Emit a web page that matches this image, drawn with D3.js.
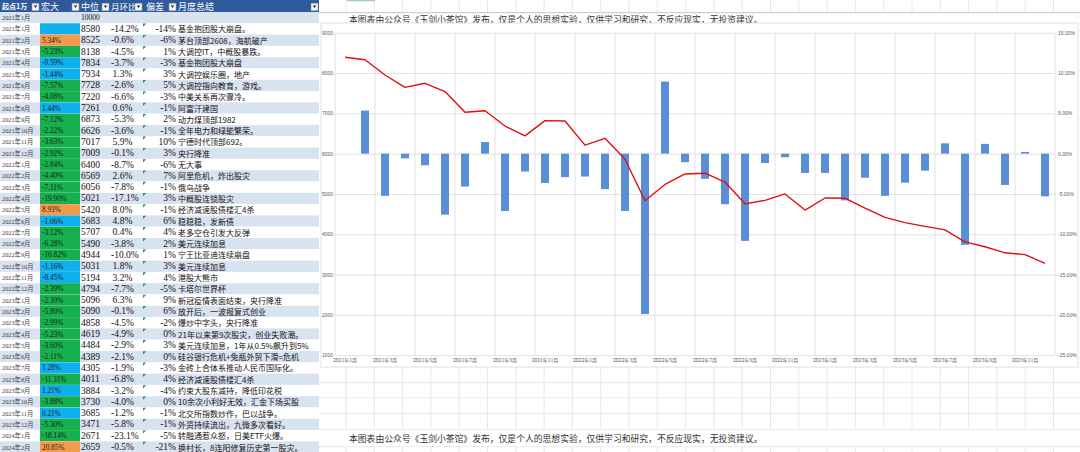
<!DOCTYPE html>
<html><head><meta charset="utf-8">
<script src="https://cdn.jsdelivr.net/npm/d3@7"></script>
<style>
html,body{margin:0;padding:0;background:#fff;overflow:hidden;}
svg{display:block;}
text{font-family:"Liberation Serif","Noto Sans CJK SC",serif;}
</style></head><body>
<svg id="c" width="1080" height="452"></svg>
<script>
// ---------------- data ----------------
const startLabel = "2021年1月";
const startValue = 10000;
const months = ["2021年1月","2021年2月","2021年3月","2021年4月","2021年5月","2021年6月","2021年7月","2021年8月","2021年9月","2021年10月","2021年11月","2021年12月",
"2022年1月","2022年2月","2022年3月","2022年4月","2022年5月","2022年6月","2022年7月","2022年8月","2022年9月","2022年10月","2022年11月","2022年12月",
"2023年1月","2023年2月","2023年3月","2023年4月","2023年5月","2023年6月","2023年7月","2023年8月","2023年9月","2023年10月","2023年11月","2023年12月",
"2024年1月","2024年2月"];
const hongda = [null,5.34,-5.23,-0.59,-1.44,-7.57,-4.08,1.44,-7.12,-2.22,-3.63,-2.92,
-2.84,-4.40,-7.11,-19.90,8.93,-1.06,-3.12,-6.28,-10.82,-1.16,-0.45,-2.39,
-2.39,-5.80,-2.99,-5.23,-3.60,-2.11,1.28,-11.31,1.21,-3.88,0.21,-5.30,
-18.14,20.85];
const zhongwei = [8580,8525,8138,7834,7934,7728,7220,7261,6873,6626,7017,7009,
6400,6569,6056,5021,5420,5683,5707,5490,4944,5031,5194,4794,
5096,5090,4858,4619,4484,4389,4305,4011,3884,3730,3685,3471,
2671,2659];
const huanbi = ["-14.2%","-0.6%","-4.5%","-3.7%","1.3%","-2.6%","-6.6%","0.6%","-5.3%","-3.6%","5.9%","-0.1%",
"-8.7%","2.6%","-7.8%","-17.1%","8.0%","4.8%","0.4%","-3.8%","-10.0%","1.8%","3.2%","-7.7%",
"6.3%","-0.1%","-4.5%","-4.9%","-2.9%","-2.1%","-1.9%","-6.8%","-3.2%","-4.0%","-1.2%","-5.8%",
"-23.1%","-0.5%"];
const piancha = [-14,-6,1,-3,3,5,-3,-1,2,-1,10,3,
-6,7,-1,3,-1,6,4,2,1,3,4,-5,
9,6,-2,0,3,0,-3,4,-4,0,-1,-1,
-5,-21];
const summary = ["基金抱团股大崩盘。","茅台顶部2608，海航破产","大调控IT，中概股暴跌。","基金抱团股大崩盘","大调控娱乐圈，地产","大调控指向教育，游戏。","中美关系再次骤冷。","阿富汗建国","动力煤顶部1982","全年电力和绿能繁荣。","宁德时代顶部692。","央行降准",
"无大事","阿里危机，炸出股灾","俄乌战争","中概股连锁股灾","经济减速股债楼汇4杀","稳稳稳，发新债","老多空仓引发大反弹","美元连续加息","宁王比亚迪连续崩盘","美元连续加息","港股大熊市","卡塔尔世界杯",
"新冠疫情表面结束，央行降准","放开后，一波报复式创业","爆炒中字头，央行降准","21年以来第9次股灾，创业失败潮。","美元连续加息，1年从0.5%飙升到5%","硅谷银行危机+兔瓶外贸下滑=危机","金砖上合体系推动人民币国际化。","经济减速股债楼汇4杀","约束大股东减持，降低印花税","10余次小利好无效，汇金下场买股","北交所指数炒作，巴以战争。","外资持续流出，九微多次看好。",
"转融通惹众怒，日美ETF火爆。","换村长，8连阳修复历史第一股灾。"];
const headers = ["起点1万","宏大","中位","月环比","偏差","月度总结"];

// chart series (2021年1月 .. 2023年12月)
const chartMonths = months.slice(0,36);
const barValues = hongda.slice(0,36);
const lineValues = [8390,8330,7950,7645,7745,7540,7025,7065,6685,6440,6820,6810,
6210,6380,5860,4830,5235,5495,5515,5295,4755,4840,5000,4600,
4900,4895,4650,4420,4290,4195,4110,3810,3690,3540,3495,3280];
const leftTicks = [1000,2000,3000,4000,5000,6000,7000,8000,9000];
const rightTicks = [-25,-20,-15,-10,-5,0,5,10,15];
const xTickLabels = chartMonths.filter((d,i)=>i%2===0);
const note = "本图表由公众号《玉剑小茶馆》发布，仅是个人的思想实验，仅供学习和研究，不反应现实，无投资建议。";

// ---------------- drawing ----------------
const svg = d3.select("#c");
const CJK = '"Noto Sans CJK SC",sans-serif';

// spreadsheet grid on right
const gridG = svg.append("g");
const colW = 28.3, colStart = 317.7;
const vCols = d3.range(1,28).map(k=>colStart+colW*k).filter(x=>x<1080);
const vSegs = [[0,12.7],[366.7,429.3],[446.7,452]];
vSegs.forEach(s=>{
  gridG.selectAll(null).data(vCols).enter().append("line")
    .attr("x1",d=>d).attr("x2",d=>d).attr("y1",s[0]).attr("y2",s[1])
    .attr("stroke","#e2e2e2").attr("stroke-width",0.8);
});
[366.7,382.7,397.7,413.3,429.3,446.7].forEach(y=>{
  gridG.append("line").attr("x1",319).attr("x2",1080).attr("y1",y).attr("y2",y)
    .attr("stroke","#e2e2e2").attr("stroke-width",0.8);
});
gridG.append("line").attr("x1",319).attr("x2",1080).attr("y1",12.7).attr("y2",12.7)
  .attr("stroke","#c4c4c4").attr("stroke-width",1);
gridG.append("rect").attr("x",347).attr("y",0).attr("width",28).attr("height",1.3).attr("fill","#9fd3b5");

// notes
svg.append("text").attr("x",349).attr("y",19).attr("dominant-baseline","central")
  .style("font-family",CJK).style("font-size","8.8px").attr("fill","#333").text(note);
svg.append("text").attr("x",349).attr("y",438).attr("dominant-baseline","central")
  .style("font-family",CJK).style("font-size","8.8px").attr("fill","#333").text(note);

// chart frame
svg.append("rect").attr("x",321).attr("y",23).attr("width",757).attr("height",344)
  .attr("fill","#fff").attr("stroke","#d9d9d9").attr("stroke-width",0.8);

const px0=335, px1=1055, pyT=32.7, pyB=355.2;
const x = d3.scaleBand().domain(chartMonths).range([px0,px1]);
const yL = d3.scaleLinear().domain([1000,9000]).range([pyB,pyT]);
const yR = d3.scaleLinear().domain([-25,15]).range([pyB,pyT]);

// horizontal gridlines + left labels
const axL = svg.append("g").attr("transform",`translate(${px0},0)`)
  .call(d3.axisLeft(yL).tickValues(leftTicks).tickSize(-(px1-px0)).tickPadding(2).tickFormat(d3.format("d")));
axL.select(".domain").remove();
axL.selectAll("line").attr("stroke","#d9d9d9").attr("stroke-width",0.8);
axL.selectAll("text").attr("fill","#595959").style("font-size","5px").style("font-family","Liberation Sans, sans-serif");

// vertical gridlines every 2 months
const vx = chartMonths.filter((d,i)=>i%2===0).map(d=>x(d)).concat([px1]);
svg.append("g").selectAll("line").data(vx).enter().append("line")
  .attr("x1",d=>d).attr("x2",d=>d).attr("y1",pyT).attr("y2",pyB)
  .attr("stroke","#d9d9d9").attr("stroke-width",0.8);

// right labels
const axR = svg.append("g").attr("transform",`translate(${px1},0)`)
  .call(d3.axisRight(yR).tickValues(rightTicks).tickSize(0).tickPadding(3).tickFormat(d=>d.toFixed(2)+"%"));
axR.select(".domain").remove();
axR.selectAll("text").attr("fill","#595959").style("font-size","5px").style("font-family","Liberation Sans, sans-serif");

// x labels
const axX = svg.append("g").attr("transform",`translate(0,${pyB})`)
  .call(d3.axisBottom(x).tickValues(xTickLabels).tickSize(0).tickPadding(3));
axX.select(".domain").remove();
axX.selectAll("text").attr("fill","#595959").style("font-size","5px").style("font-family",CJK);

// bars
const bw = x.bandwidth()*0.4;
svg.append("g").selectAll("rect").data(chartMonths.map((m,i)=>({m,v:barValues[i]})).filter(d=>d.v!==null))
  .enter().append("rect")
  .attr("x",d=>x(d.m)+(x.bandwidth()-bw)/2).attr("width",bw)
  .attr("y",d=>yR(Math.max(0,d.v))).attr("height",d=>Math.abs(yR(d.v)-yR(0)))
  .attr("fill","#5a8ed6");

// line
const line = d3.line().x((d,i)=>x(chartMonths[i])+x.bandwidth()/2).y(d=>yL(d));
svg.append("path").datum(lineValues).attr("d",line).attr("fill","none")
  .attr("stroke","#e01010").attr("stroke-width",1.4).attr("stroke-linejoin","round");

// ---------------- table ----------------
const tb = svg.append("g");
const cols = [[0,40],[40,80],[80,110],[110,143],[143,177],[177,319]];
const hH = 12, rH = 11.3;
const rows = [{label:startLabel, hv:undefined, zw:startValue, hb:"", pc:null, sm:""}]
  .concat(months.map((m,i)=>({label:m, hv:hongda[i], zw:zhongwei[i], hb:huanbi[i], pc:piancha[i], sm:summary[i]})));
const colorOf = v => (v===null||v===undefined) ? "#0fb0ee" : (v>5 ? "#f39a4c" : (v< -2 ? "#16b14e" : "#0fb0ee"));

const rg = tb.selectAll("g.row").data(rows).enter().append("g")
  .attr("transform",(d,k)=>`translate(0,${hH+rH*k})`);
rg.append("rect").attr("x",0).attr("y",0).attr("width",319).attr("height",rH)
  .attr("fill",(d,k)=>k%2===0?"#d9e2ef":"#ffffff");
rg.filter((d,k)=>k>0).append("rect").attr("x",cols[1][0]).attr("y",0)
  .attr("width",cols[1][1]-cols[1][0]).attr("height",rH).attr("fill",d=>colorOf(d.hv));
const cy = rH/2;
rg.append("text").attr("x",2).attr("y",cy).attr("dominant-baseline","central")
  .style("font-size","6.3px").attr("fill","#404040").text(d=>d.label);
rg.filter(d=>d.hv!==null&&d.hv!==undefined).append("text").attr("x",42).attr("y",cy).attr("dominant-baseline","central")
  .style("font-size","7.3px").attr("fill","#1a1a1a").text(d=>d.hv.toFixed(2)+"%");
rg.append("text").attr("x",81).attr("y",cy).attr("dominant-baseline","central")
  .style("font-size",(d,k)=>k===0?"7.5px":"9.5px").attr("fill","#111").text(d=>d.zw);
rg.append("text").attr("x",d=>d.hb.startsWith("-")?111:112.6).attr("y",cy).attr("dominant-baseline","central")
  .style("font-size","9.5px").attr("fill","#111").text(d=>d.hb);
rg.filter(d=>d.pc!==null).append("text").attr("x",176).attr("y",cy).attr("dominant-baseline","central")
  .attr("text-anchor","end").style("font-size","9.5px").attr("fill","#111").text(d=>d.pc+"%");
rg.filter(d=>d.pc!==null).append("path").attr("d","M143,0.3L146.2,0.3L143,3.5Z").attr("fill","#1f9a4a");
rg.append("text").attr("x",178).attr("y",cy).attr("dominant-baseline","central")
  .style("font-family",CJK).style("font-size","8px").attr("fill","#111").text(d=>d.sm);

// header
const hg = tb.append("g");
hg.append("rect").attr("x",0).attr("y",0).attr("width",319).attr("height",hH).attr("fill","#2f5b9c");
const hx = [2,41,81,111,146,178];
const hs = ["7px","9px","9px","8.5px","9px","9px"];
headers.forEach((h,i)=>{
  hg.append("text").attr("x",hx[i]).attr("y",hH/2+0.3).attr("dominant-baseline","central")
    .style("font-family",CJK).style("font-size",hs[i]).style("font-weight",i===0?"bold":"normal")
    .attr("fill","#fff").text(h);
  const bx = cols[i][1]-8;
  hg.append("rect").attr("x",bx).attr("y",3.2).attr("width",7).attr("height",7.6)
    .attr("fill","#f5f5f5").attr("stroke","#8a8a8a").attr("stroke-width",0.5);
  hg.append("path").attr("d",`M${bx+1.8},${5.6}L${bx+5.2},${5.6}L${bx+3.5},${8}Z`).attr("fill","#222");
});
</script>
</body></html>
